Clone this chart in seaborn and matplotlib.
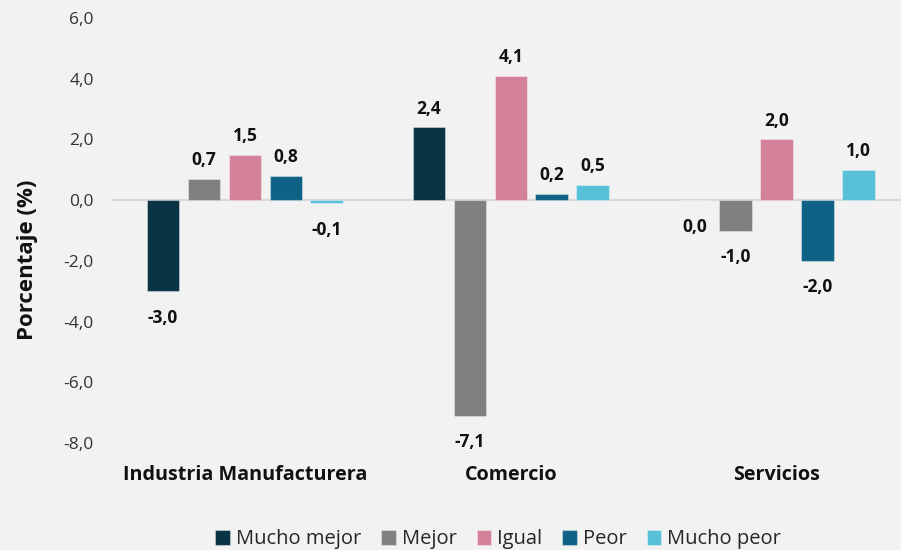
import matplotlib
matplotlib.use("Agg")
import matplotlib.pyplot as plt
import seaborn as sns
import pandas as pd
import numpy as np

categories = ["Industria Manufacturera", "Comercio", "Servicios"]
series = ["Mucho mejor", "Mejor", "Igual", "Peor", "Mucho peor"]
mucho_mejor = [-3.0, 2.4, 0.0]
mejor = [0.7, -7.1, -1.0]
igual = [1.5, 4.1, 2.0]
peor = [0.8, 0.2, -2.0]
mucho_peor = [-0.1, 0.5, 1.0]
colors = ["#0A3346", "#808080", "#D4819A", "#0F6286", "#58C0D8"]
yticks = [6, 4, 2, 0, -2, -4, -6, -8]

values = [mucho_mejor, mejor, igual, peor, mucho_peor]
rows = []
for s, vals in zip(series, values):
    for c, v in zip(categories, vals):
        rows.append({"cat": c, "serie": s, "val": v})
df = pd.DataFrame(rows)

sns.set_theme(style="white")
plt.rcParams["font.family"] = ["Open Sans", "DejaVu Sans"]

fig = plt.figure(figsize=(9.01, 5.5), dpi=100, facecolor="#F2F2F2")
ax = fig.add_axes([112/901, 107/550, (901-112)/901, 425/550])
ax.set_facecolor("#F2F2F2")

sns.barplot(data=df, x="cat", y="val", hue="serie", order=categories,
            hue_order=series, palette=colors, saturation=1, width=0.77, gap=0.2,
            edgecolor=(1, 1, 1, 0.35), linewidth=0.8, ax=ax, errorbar=None,
            legend=True)

def fmt(v):
    s = f"{abs(v):.1f}".replace(".", ",")
    return ("-" if v < -0.0001 else "") + s

for cont in ax.containers:
    for rect, v in zip(cont, cont.datavalues):
        x = rect.get_x() + rect.get_width() / 2
        if v > 0:
            ax.annotate(fmt(v), (x, v), xytext=(0, 7), textcoords="offset points",
                        ha="center", va="bottom", fontsize=12.5, fontweight="bold",
                        color="#111111")
        else:
            ax.annotate(fmt(v), (x, v), xytext=(0, -12.5), textcoords="offset points",
                        ha="center", va="top", fontsize=12.5, fontweight="bold",
                        color="#111111")

ax.axhline(0, color="#D9D9D9", lw=1.5, zorder=0.5)
ax.set_ylim(-8, 6)
ax.set_xlim(-0.5, 2.467)
ax.set_yticks(yticks)
ax.set_yticklabels([f"{t:.1f}".replace(".", ",") for t in yticks], fontsize=12.5, color="#333333")
ax.tick_params(axis="y", length=0, pad=13)
ax.tick_params(axis="x", length=0, pad=16)
ax.set_xticks(range(len(categories)))
ax.set_xticklabels(categories, fontsize=14.2, fontweight="bold", color="#111111")
ax.set_xlabel("")
ax.set_ylabel("Porcentaje (%)", fontsize=16, fontweight="bold", color="#111111")
ax.yaxis.set_label_coords(-0.094, 0.43)
for sp in ax.spines.values():
    sp.set_visible(False)

h, l = ax.get_legend_handles_labels()
ax.legend_.remove()
fig.legend(h, l, loc="lower center", bbox_to_anchor=(0.553, -0.032), ncol=5, frameon=False,
           fontsize=14.5, handlelength=0.72, handleheight=0.72, handletextpad=0.3,
           columnspacing=1.0)

fig.savefig("out.png", dpi=100, facecolor=fig.get_facecolor())
